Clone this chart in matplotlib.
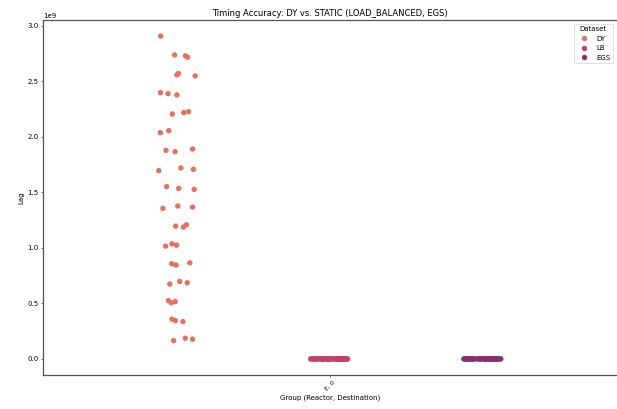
import matplotlib
matplotlib.use("Agg")
import matplotlib.pyplot as plt
import numpy as np
import pandas as pd
import seaborn as sns

# Lag values (units of 1e9)
dy_lag = [2.904, 2.715, 2.736, 2.727, 2.547, 2.568, 2.556, 2.396, 2.387, 2.375,
          2.216, 2.225, 2.204, 2.036, 2.054, 1.889, 1.877, 1.865, 1.706, 1.694,
          1.718, 1.525, 1.550, 1.534, 1.366, 1.354, 1.376, 1.207, 1.186, 1.195,
          1.015, 1.024, 1.036, 0.844, 0.856, 0.865, 0.685, 0.673, 0.697, 0.525,
          0.516, 0.505, 0.336, 0.358, 0.345, 0.186, 0.165, 0.177]
lb_lag = [0.0] * 48
egs_lag = [0.0] * 48
datasets = ["DY", "LB", "EGS"]
group_label = "E, 0"

rows = []
for name, vals in zip(datasets, [dy_lag, lb_lag, egs_lag]):
    for v in vals:
        rows.append({"Group": group_label, "Lag": v * 1e9, "Dataset": name})
df = pd.DataFrame(rows)

np.random.seed(7)
fig, ax = plt.subplots(figsize=(12.34, 8.18), dpi=50)
sns.stripplot(data=df, x="Group", y="Lag", hue="Dataset", hue_order=datasets,
              dodge=True, palette="flare", size=7.8, ax=ax)

ax.set_title("Timing Accuracy: DY vs. STATIC (LOAD_BALANCED, EGS)")
ax.set_xlabel("Group (Reactor, Destination)")
ax.set_ylabel("Lag")
plt.setp(ax.get_xticklabels(), rotation=45, ha="center", fontsize=9)
ax.spines["right"].set_visible(False)
for s in ["left", "top", "bottom"]:
    ax.spines[s].set_linewidth(1.8)
    ax.spines[s].set_color("#555555")
ax.legend(title="Dataset", loc="upper right")

fig.subplots_adjust(left=0.07, right=0.999, top=0.951, bottom=0.083)
plt.savefig("out.png", dpi=50)
